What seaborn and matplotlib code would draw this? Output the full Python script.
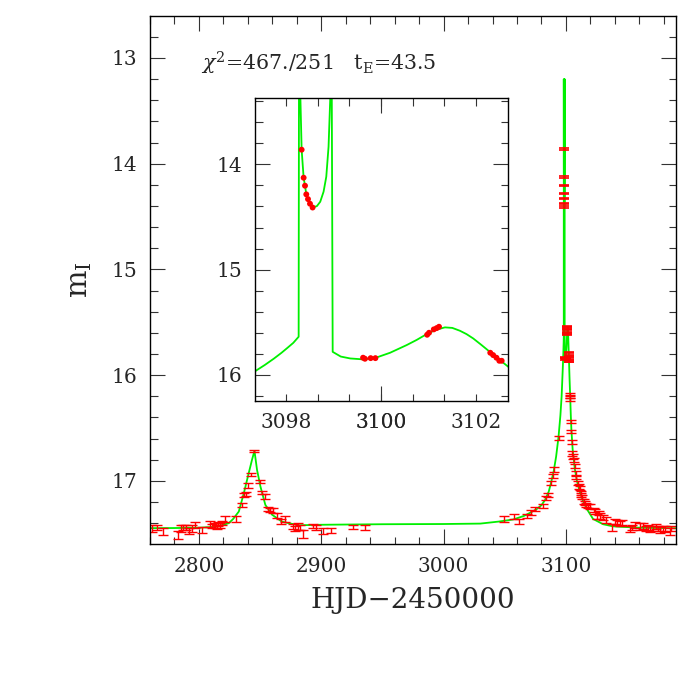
import numpy as np
import pandas as pd
import matplotlib
matplotlib.use("Agg")
import matplotlib.pyplot as plt
from matplotlib.ticker import MultipleLocator, FixedLocator, FuncFormatter
import seaborn as sns

sns.set_style("ticks")
plt.rcParams['font.family'] = ['DejaVu Serif']
plt.rcParams['mathtext.fontset'] = 'dejavuserif'

# ---------------- photometry (main panel) ----------------
hjd = [2761.4, 2766.0, 2770.7, 2783.1, 2785.1, 2787.0, 2789.2, 2791.8, 2794.5, 2796.7,
       2802.2, 2809.0, 2810.9, 2812.8, 2814.4, 2815.8, 2817.1, 2818.5, 2821.2, 2830.4,
       2835.3, 2837.2, 2838.6, 2840.2, 2842.6, 2844.8, 2849.7, 2851.6, 2853.8, 2856.2,
       2858.1, 2860.4, 2863.9, 2867.4, 2870.1, 2876.6, 2878.8, 2880.9, 2882.9, 2885.3,
       2892.9, 2895.6, 2901.1, 2907.6, 2925.8, 2935.6, 3049.6, 3057.7, 3061.8, 3067.9,
       3071.4, 3074.8, 3080.9, 3083.6, 3085.5, 3087.7, 3089.1, 3090.4, 3094.0,
       3103.3, 3103.45, 3103.6, 3104.0, 3104.5, 3104.6, 3105.1, 3105.9, 3106.7, 3107.2,
       3108.1, 3108.6, 3109.9, 3110.8, 3111.8, 3112.1, 3112.7, 3113.5, 3114.6, 3115.4,
       3116.8, 3118.1, 3119.5, 3122.7, 3123.5, 3125.4, 3127.1, 3128.2, 3130.4, 3133.1,
       3138.0, 3139.9, 3141.8, 3143.9, 3146.1, 3152.1, 3154.0, 3156.1, 3160.8, 3162.9,
       3165.1, 3167.0, 3169.0, 3171.1, 3173.3, 3175.2, 3177.1, 3179.3, 3181.4, 3184.7,
       3186.3]
mag = [17.449, 17.442, 17.480, 17.512, 17.449, 17.442, 17.440, 17.474, 17.449, 17.417,
       17.465, 17.407, 17.426, 17.423, 17.433, 17.407, 17.423, 17.400, 17.360, 17.360,
       17.227, 17.133, 17.123, 17.044, 16.943, 16.716, 17.006, 17.107, 17.148, 17.269,
       17.275, 17.281, 17.329, 17.386, 17.360, 17.433, 17.449, 17.433, 17.440, 17.500,
       17.426, 17.440, 17.474, 17.470, 17.433, 17.440, 17.360, 17.338, 17.387, 17.331,
       17.300, 17.268, 17.240, 17.164, 17.135, 17.020, 16.952, 16.893, 16.595,
       16.180, 16.210, 16.230, 16.440, 16.530, 16.630, 16.740, 16.770, 16.800, 16.860,
       16.930, 16.960, 17.022, 17.054, 17.070, 17.117, 17.133, 17.149, 17.196, 17.210,
       17.227, 17.237, 17.243, 17.275, 17.290, 17.338, 17.306, 17.332, 17.345, 17.370,
       17.440, 17.385, 17.395, 17.400, 17.395, 17.458, 17.440, 17.417, 17.433, 17.427,
       17.449, 17.440, 17.458, 17.449, 17.433, 17.449, 17.465, 17.449, 17.458, 17.480,
       17.452]
err = [0.030, 0.025, 0.030, 0.035, 0.030, 0.025, 0.025, 0.030, 0.030, 0.030,
       0.030, 0.025, 0.020, 0.020, 0.020, 0.020, 0.025, 0.020, 0.025, 0.025,
       0.020, 0.020, 0.020, 0.020, 0.015, 0.010, 0.015, 0.015, 0.020, 0.020,
       0.020, 0.020, 0.025, 0.025, 0.025, 0.025, 0.025, 0.030, 0.025, 0.040,
       0.020, 0.025, 0.025, 0.025, 0.020, 0.025, 0.025, 0.025, 0.025, 0.020,
       0.020, 0.020, 0.020, 0.020, 0.020, 0.020, 0.020, 0.020, 0.015,
       0.010, 0.010, 0.010, 0.015, 0.015, 0.020, 0.020, 0.020, 0.020, 0.020,
       0.020, 0.020, 0.020, 0.020, 0.020, 0.020, 0.020, 0.020, 0.020, 0.020,
       0.020, 0.020, 0.020, 0.020, 0.020, 0.025, 0.020, 0.025, 0.025, 0.025,
       0.030, 0.025, 0.025, 0.025, 0.025, 0.030, 0.025, 0.025, 0.030, 0.025,
       0.025, 0.025, 0.030, 0.025, 0.025, 0.025, 0.030, 0.025, 0.030, 0.030,
       0.025]

# ---------------- caustic-crossing photometry (shown in both panels) ----------------
hjd_c = [3098.326, 3098.368, 3098.397, 3098.424, 3098.460, 3098.502, 3098.557,
         3099.620, 3099.660, 3099.780, 3099.880,
         3100.970, 3101.010, 3101.110, 3101.170, 3101.220,
         3102.300, 3102.360, 3102.430, 3102.490, 3102.540]
mag_c = [13.861, 14.127, 14.203, 14.285, 14.330, 14.374, 14.410,
         15.836, 15.846, 15.840, 15.840,
         15.618, 15.599, 15.567, 15.555, 15.542,
         15.789, 15.811, 15.836, 15.865, 15.865]
err_c = [0.006] * len(hjd_c)

# ---------------- binary-lens model curve ----------------
model_t = [2760, 2780, 2800, 2810, 2816, 2820, 2824.4, 2828, 2832.6, 2836.7,
           2840.7, 2843.4, 2845.4, 2847.5, 2850.3, 2854.3, 2859.8, 2867.9, 2881.5, 2900,
           2950, 3000, 3030, 3045, 3057, 3066, 3071, 3076, 3080, 3083,
           3086, 3088, 3090, 3092, 3094, 3095.5, 3096.5, 3097.35, 3097.55, 3097.74,
           3097.9, 3098.02, 3098.15, 3098.263, 3098.27, 3098.30, 3098.326, 3098.368, 3098.397, 3098.424,
           3098.46, 3098.502, 3098.557, 3098.59, 3098.649, 3098.718, 3098.788, 3098.845, 3098.893, 3098.929,
           3098.96, 3098.98, 3099.013, 3099.15, 3099.349, 3099.628, 3099.909, 3100.189, 3100.539, 3100.75,
           3100.96, 3101.15, 3101.345, 3101.5, 3101.66, 3101.8, 3101.94, 3102.1, 3102.29, 3102.45,
           3102.66, 3103.0, 3103.5, 3104.0, 3104.5, 3105.5, 3107.2, 3109.0, 3111.3, 3114.0,
           3116.8, 3122.2, 3130.4, 3138.5, 3160, 3190]
model_m = [17.447, 17.446, 17.443, 17.437, 17.430, 17.415, 17.400, 17.360, 17.290, 17.117,
           16.927, 16.800, 16.716, 16.896, 17.054, 17.227, 17.320, 17.386, 17.420, 17.415,
           17.410, 17.408, 17.404, 17.385, 17.365, 17.330, 17.300, 17.268, 17.230, 17.180,
           17.100, 17.010, 16.910, 16.770, 16.580, 16.380, 16.200, 15.963, 15.905, 15.845,
           15.790, 15.745, 15.695, 15.637, 13.200, 13.370, 13.861, 14.127, 14.203, 14.285,
           14.330, 14.374, 14.410, 14.406, 14.396, 14.355, 14.260, 14.118, 13.833, 13.373,
           13.200, 15.780, 15.789, 15.825, 15.843, 15.852, 15.833, 15.789, 15.716, 15.667,
           15.612, 15.572, 15.548, 15.553, 15.580, 15.612, 15.653, 15.710, 15.780, 15.840,
           15.915, 16.040, 16.200, 16.380, 16.520, 16.700, 16.880, 17.000, 17.100, 17.190,
           17.260, 17.360, 17.410, 17.430, 17.443, 17.448]

label_text = r'$\chi^2$=467./251   t$_{\rm E}$=43.5'
xlabel = 'HJD\u22122450000'
ylabel = r'm$_{\rm I}$'

green = '#00f000'
red = '#ff0000'

W = 692
fig = plt.figure(figsize=(6.92, 6.92), dpi=100)
ax = fig.add_axes([150 / W, 148 / W, 526 / W, 528 / W])

sns.lineplot(x=model_t, y=model_m, ax=ax, color=green, lw=1.3, estimator=None, sort=False)
ax.errorbar(hjd, mag, yerr=err, fmt='none', ecolor=red, elinewidth=1.0,
            capsize=3.8, capthick=1.0)
ax.errorbar(hjd_c, mag_c, yerr=err_c, fmt='none', ecolor=red, elinewidth=1.0,
            capsize=3.8, capthick=1.2)

ax.set_xlim(2760, 3190)
ax.set_ylim(17.597, 12.603)
ax.xaxis.set_major_locator(MultipleLocator(100))
ax.xaxis.set_minor_locator(MultipleLocator(20))
ax.yaxis.set_major_locator(MultipleLocator(1))
ax.yaxis.set_minor_locator(MultipleLocator(0.2))
ax.yaxis.set_major_formatter(FuncFormatter(lambda v, p: f'{v:.0f}'))

tick_col = '#333333'
ax.tick_params(which='major', direction='in', length=10.8, width=0.8, color=tick_col,
               top=True, right=True, labelsize=14.5, pad=9)
ax.tick_params(which='minor', direction='in', length=5.4, width=0.8, color=tick_col,
               top=True, right=True)
for s in ax.spines.values():
    s.set_linewidth(1.0)
    s.set_color('black')

ax.set_xlabel(xlabel, fontsize=20, labelpad=8)
ax.set_ylabel(ylabel, fontsize=21)
ax.yaxis.set_label_coords(-0.106, 0.5)

fig.text(201 / W, (W - 70.5) / W, label_text, fontsize=14.8, ha='left', va='baseline')

# ---------------- inset ----------------
ins = fig.add_axes([254.5 / W, 291 / W, 253.2 / W, 302.7 / W])
sns.lineplot(x=model_t, y=model_m, ax=ins, color=green, lw=1.3, estimator=None, sort=False)
sns.scatterplot(x=hjd_c, y=mag_c, ax=ins, color=red, s=18, edgecolor='none', zorder=3)
ins.set_xlim(3097.333, 3102.667)
ins.set_ylim(16.247, 13.373)
ins.xaxis.set_major_locator(FixedLocator([3100]))
ins.xaxis.set_minor_locator(FixedLocator([3097.333 + k * 2 / 3 for k in range(1, 8)]))
ins.xaxis.set_major_formatter(FuncFormatter(lambda v, p: f'{v:.0f}'))
ins.xaxis.set_minor_formatter(FuncFormatter(
    lambda v, p: f'{round(v):.0f}' if abs(v - round(v)) < 0.01 and round(v) % 2 == 0 else ''))
ins.yaxis.set_major_locator(MultipleLocator(1))
ins.yaxis.set_minor_locator(MultipleLocator(0.2))
ins.yaxis.set_major_formatter(FuncFormatter(lambda v, p: f'{v:.0f}'))
ins.tick_params(which='major', direction='in', length=10.8, width=0.8, color=tick_col,
                top=True, right=True, labelsize=14.5, pad=9)
ins.tick_params(which='minor', direction='in', length=5.4, width=0.8, color=tick_col,
                top=True, right=True, labelsize=14.5, pad=9)
ins.tick_params(axis='y', which='minor', labelleft=False)
for s in ins.spines.values():
    s.set_linewidth(1.0)
    s.set_color('black')
ins.set_xlabel('')
ins.set_ylabel('')

fig.savefig('out.png', dpi=100)
